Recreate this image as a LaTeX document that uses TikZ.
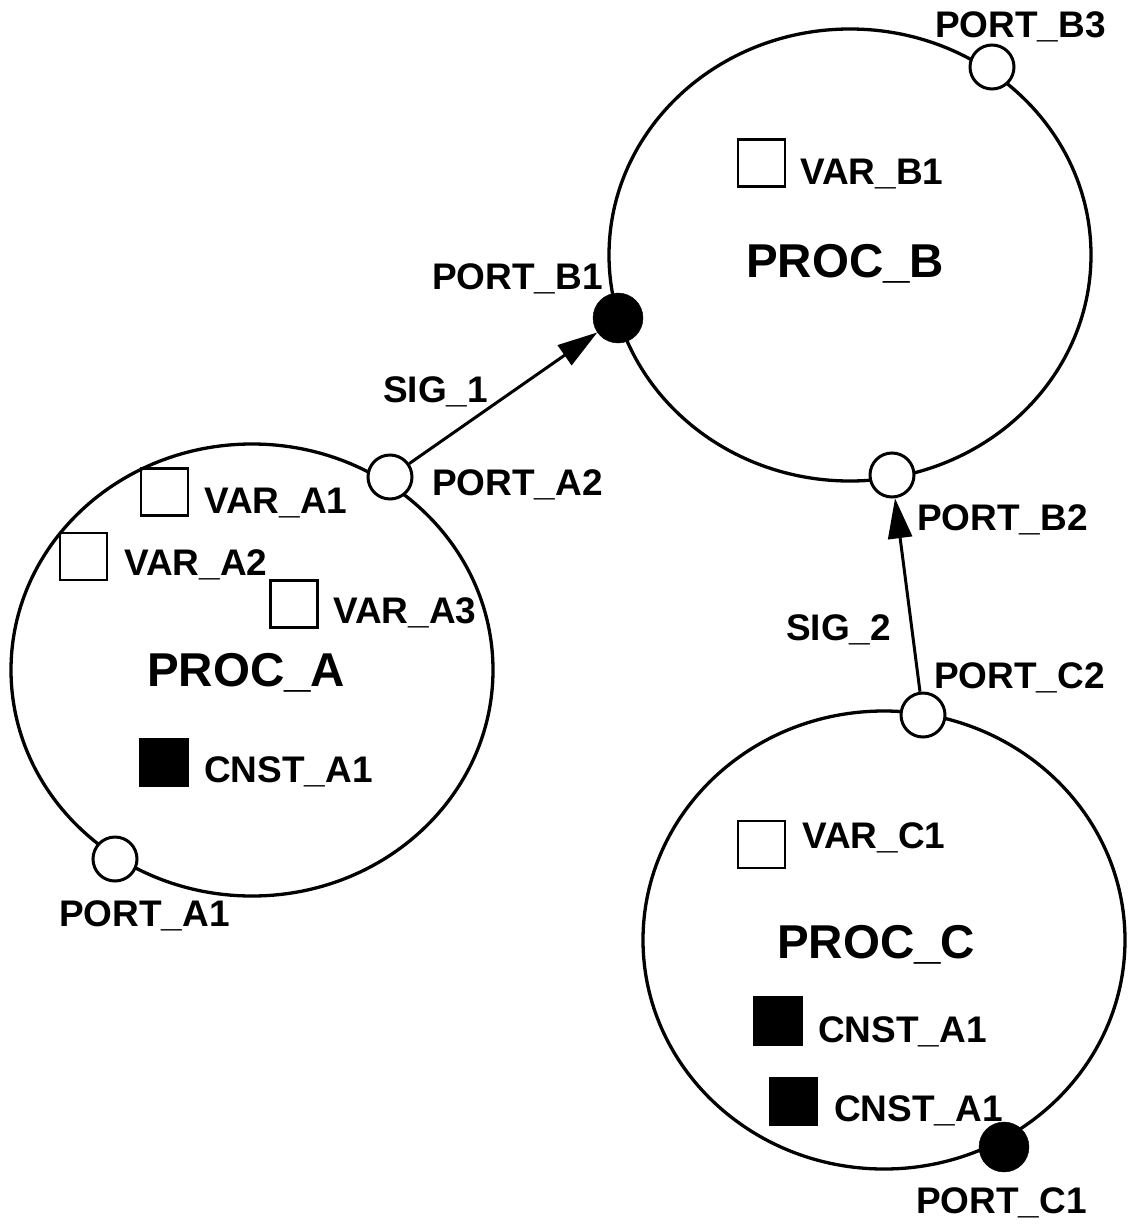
\documentclass[tikz,border=0pt]{standalone}
\usepackage{fontspec}
\setmainfont{Liberation Sans}
\usetikzlibrary{arrows.meta,shapes.geometric}

\begin{document}
\begin{tikzpicture}[x=1pt,y=-1pt,
        proc/.style={draw, ellipse, line width=3.3pt, minimum width=482pt, minimum height=452pt, inner sep=0pt},
        inport/.style={draw, circle, fill=white, line width=3pt, minimum size=44pt, inner sep=0pt},
        outport/.style={draw, circle, fill=black, minimum size=50pt, inner sep=0pt},
        var/.style={draw, line width=2.4pt, minimum size=47pt, inner sep=0pt},
        cnst/.style={var, fill=black},
        lbl/.style={anchor=base west, inner sep=0pt, font=\fontsize{37}{37}\selectfont\bfseries},
        title/.style={lbl, font=\fontsize{47.5}{47.5}\selectfont\bfseries},
        sig/.style={line width=3pt, -{Triangle[length=40pt,width=24pt]}}]
        \useasboundingbox (0,0) rectangle (1132,1226);

        % processes
        \node[proc] (procA) at (252,670) {};
        \node[proc] (procB) at (850,255) {};
        \node[proc, minimum height=458pt] (procC) at (884,940) {};
        \node[title] (tA) at (147,686) {PROC\_A};
        \node[title] (tB) at (746,277) {PROC\_B};
        \node[title] (tC) at (777,958) {PROC\_C};

        % variables and constants
        \foreach \n/\x/\y in {varA1/164.5/492, varA2/83.5/556.5, varA3/294/604, varB1/761.5/163, varC1/761.5/844.5}
            \node[var] (\n) at (\x,\y) {};
        \foreach \n/\x/\y in {cnstA1/164/762.5, cnstC1/778/1021, cnstC2/793.5/1101.5}
            \node[cnst] (\n) at (\x,\y) {};
        \node[lbl] (lVarA1) at (204,513) {VAR\_A1};
        \node[lbl] (lVarA2) at (124,575) {VAR\_A2};
        \node[lbl] (lVarA3) at (333,623) {VAR\_A3};
        \node[lbl] (lVarB1) at (800,184) {VAR\_B1};
        \node[lbl] (lVarC1) at (802,848.5) {VAR\_C1};
        \node[lbl] (lCnstA1) at (204,782) {CNST\_A1};
        \node[lbl] (lCnstC1) at (818,1042) {CNST\_A1};
        \node[lbl] (lCnstC2) at (834,1121) {CNST\_A1};

        % ports
        \node[inport] (portA1) at (115,859) {};
        \node[inport] (portA2) at (390,477) {};
        \node[outport] (portB1) at (618,318) {};
        \node[inport] (portB2) at (892,475) {};
        \node[inport] (portB3) at (992,67) {};
        \node[outport] (portC1) at (1004,1147) {};
        \node[inport] (portC2) at (923,715) {};
        \node[lbl] (lPortA1) at (59,926) {PORT\_A1};
        \node[lbl] (lPortA2) at (432,495) {PORT\_A2};
        \node[lbl] (lPortB1) at (432,289) {PORT\_B1};
        \node[lbl] (lPortB2) at (917,530) {PORT\_B2};
        \node[lbl] (lPortB3) at (935,37) {PORT\_B3};
        \node[lbl] (lPortC1) at (916,1213) {PORT\_C1};
        \node[lbl] (lPortC2) at (934,688) {PORT\_C2};

        % signals
        \draw[sig] (portA2) -- (portB1);
        \draw[sig] (portC2) -- (portB2);
        \node[lbl] (lSig1) at (383,402) {SIG\_1};
        \node[lbl] (lSig2) at (786,640) {SIG\_2};
\end{tikzpicture}
\end{document}
